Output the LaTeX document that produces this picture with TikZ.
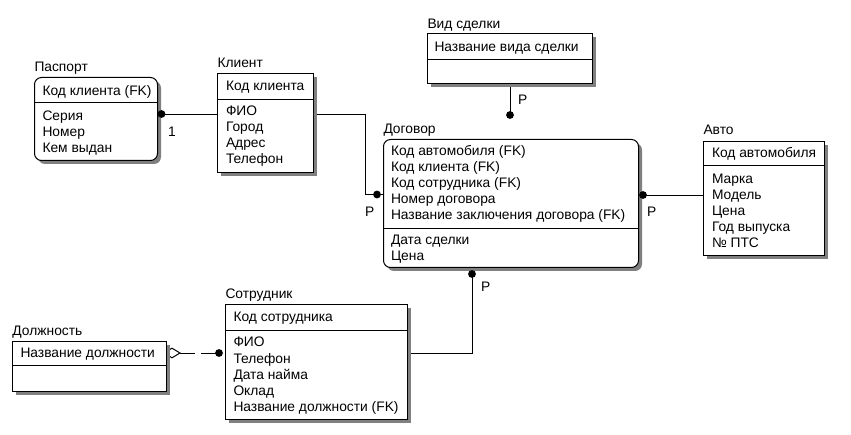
\documentclass[tikz,border=0pt]{standalone}
\usepackage{fontspec}
\setmainfont{Liberation Sans}
\usetikzlibrary{calc}
\pgfdeclarelayer{bg}
\pgfsetlayers{bg,main}
\begin{document}
\begin{tikzpicture}[x=1pt,y=-1pt,line width=1pt,
  font=\fontsize{13.8}{16}\selectfont,
  ent/.style={draw, fill=white, line width=1pt, anchor=north west, inner sep=0pt},
  shd/.style={fill=black!50},
  rnd/.style={rounded corners=7pt},
  txt/.style={anchor=base west, inner sep=0pt},
  lbl/.style={anchor=base west, inner sep=0pt},
  dot/.style={fill=black}]
\useasboundingbox (0,0) rectangle (851,435);

% ---------- entities ----------
% Паспорт
\fill[shd,rnd] (38,81) rectangle (161,164);
\node[ent,rnd,minimum width=123pt,minimum height=83pt] (pasp) at (34,77) {};
\draw (34,103) -- (157,103);
\node[txt] (paspT) at (34,72) {Паспорт};
\node[txt] (pasp1) at (42,96) {Код клиента (FK)};
\node[txt] (pasp2) at (42,121) {Серия};
\node[txt] (pasp3) at (42,137) {Номер};
\node[txt] (pasp4) at (42,153) {Кем выдан};

% Клиент
\fill[shd] (221,77) rectangle (317,176);
\node[ent,minimum width=96pt,minimum height=99pt] (kl) at (217,73) {};
\draw (217,100) -- (313,100);
\node[txt] (klT) at (217,68) {Клиент};
\node[txt] (kl1) at (225.5,91) {Код клиента};
\node[txt] (kl2) at (225.5,116) {ФИО};
\node[txt] (kl3) at (225.5,132) {Город};
\node[txt] (kl4) at (225.5,148) {Адрес};
\node[txt] (kl5) at (225.5,164) {Телефон};

% Вид сделки
\fill[shd] (431,37) rectangle (596,87);
\node[ent,minimum width=165pt,minimum height=50pt] (vid) at (427,33) {};
\draw (427,60) -- (592,60);
\node[txt] (vidT) at (427,29) {Вид сделки};
\node[txt] (vid1) at (434,51.5) {Название вида сделки};

% Договор
\fill[shd,rnd] (387,143) rectangle (642,271);
\node[ent,rnd,minimum width=255pt,minimum height=128pt] (dog) at (383,139) {};
\draw (383,229) -- (638,229);
\node[txt] (dogT) at (383,134) {Договор};
\node[txt] (dog1) at (390.5,156) {Код автомобиля (FK)};
\node[txt] (dog2) at (390.5,172) {Код клиента (FK)};
\node[txt] (dog3) at (390.5,188) {Код сотрудника (FK)};
\node[txt] (dog4) at (390.5,204) {Номер договора};
\node[txt] (dog5) at (390.5,220) {Название заключения договора (FK)};
\node[txt] (dog6) at (390.5,245) {Дата сделки};
\node[txt] (dog7) at (390.5,261) {Цена};

% Авто
\fill[shd] (707,145) rectangle (828,259);
\node[ent,minimum width=121pt,minimum height=114pt] (avto) at (703,141) {};
\draw (703,166) -- (824,166);
\node[txt] (avtoT) at (703,135) {Авто};
\node[txt] (avto1) at (711.5,158) {Код автомобиля};
\node[txt] (avto2) at (711.5,184) {Марка};
\node[txt] (avto3) at (711.5,200) {Модель};
\node[txt] (avto4) at (711.5,216) {Цена};
\node[txt] (avto5) at (711.5,232) {Год выпуска};
\node[txt] (avto6) at (711.5,248) {№ ПТС};

% Сотрудник
\fill[shd] (229,308) rectangle (411,423);
\node[ent,minimum width=182pt,minimum height=115pt] (sotr) at (225,304) {};
\draw (225,331) -- (407,331);
\node[txt] (sotrT) at (225,299) {Сотрудник};
\node[txt] (sotr1) at (233,322) {Код сотрудника};
\node[txt] (sotr2) at (233,347) {ФИО};
\node[txt] (sotr3) at (233,363) {Телефон};
\node[txt] (sotr4) at (233,379) {Дата найма};
\node[txt] (sotr5) at (233,395) {Оклад};
\node[txt] (sotr6) at (233,411) {Название должности (FK)};

% Должность
\coordinate (dm) at (172,353);
\draw[fill=white] (dm) +(-8,0) -- +(0,-4.8) -- +(8,0) -- +(0,4.8) -- cycle;
\fill[shd] (16,345) rectangle (170,395);
\node[ent,minimum width=154pt,minimum height=50pt] (dol) at (12,341) {};
\draw (12,366) -- (166,366);
\node[txt] (dolT) at (12,336) {Должность};
\node[txt] (dol1) at (20,357.5) {Название должности};

% ---------- connector points ----------
\coordinate (c1) at (161.5,114);
\coordinate (b2) at (365.5,114);
\coordinate (c2) at (377,194.5);
\coordinate (c3) at (643,195);
\coordinate (c4) at (510,115);
\coordinate (c5) at (472,274);
\coordinate (b5) at (472,353);
\coordinate (c6) at (219,353);

\begin{pgfonlayer}{bg}
  \draw (c1) -- (kl.west |- c1);
  \draw (kl.east |- c1) -- (b2) |- (dog.west |- c2);
  \draw (c3) -- (avto.west |- c3);
  \draw (vid.south -| c4) -- (c4);
  \draw (c5) -- (b5) -- (sotr.east |- b5);
\end{pgfonlayer}
\draw[dash pattern=on 15pt off 6pt] ($(dm)+(8,0)$) -- (c6);

% dots
\fill[dot] (c1) circle (3.9pt);
\fill[dot] (c2) circle (3.9pt);
\fill[dot] (c3) circle (3.9pt);
\fill[dot] (c4) circle (3.9pt);
\fill[dot] (c5) circle (3.9pt);
\fill[dot] (c6) circle (3.9pt);

% labels
\node[lbl] (l1) at (168,136.5) {1};
\node[lbl] (l2) at (365,216.5) {P};
\node[lbl] (l3) at (647,217) {P};
\node[lbl] (l4) at (518,105) {P};
\node[lbl] (l5) at (481,292) {P};
\end{tikzpicture}
\end{document}
